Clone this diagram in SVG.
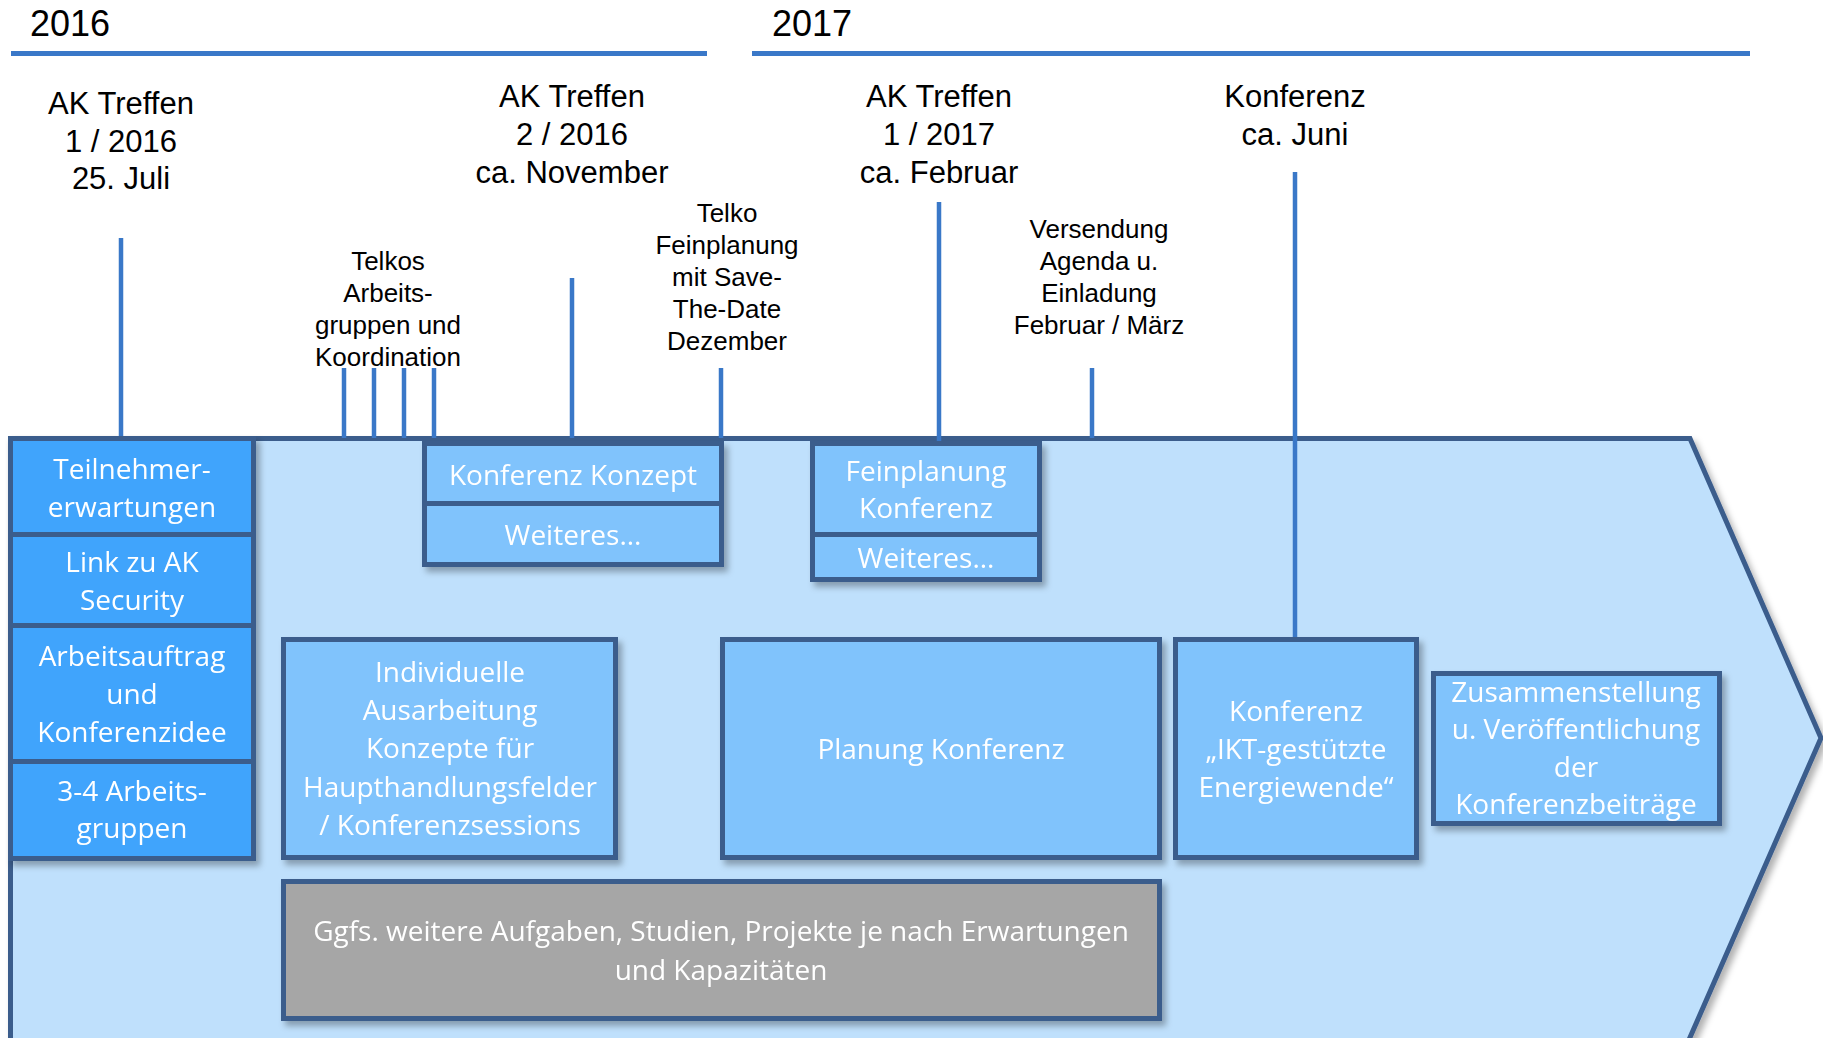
<svg xmlns="http://www.w3.org/2000/svg" width="1823" height="1038" viewBox="0 0 1823 1038">
<defs>
<filter id="sh" x="-10%" y="-10%" width="130%" height="130%">
<feDropShadow dx="4" dy="5" stdDeviation="3" flood-color="#000" flood-opacity="0.3"/>
</filter>
<style>
.hd{font-family:"Liberation Sans",Arial,sans-serif;fill:#000;text-anchor:middle}
.big{font-size:31px}
.sm{font-size:26px}
.yr{font-family:"Liberation Sans",Arial,sans-serif;font-size:36px;fill:#000}
.yl{stroke:#3a78c8;stroke-width:5;fill:none}
.tk{stroke:#3a78c8;stroke-width:4.5;fill:none}
.arr{fill:#bfe0fc;stroke:#3b5d8c;stroke-width:5}
.b1{fill:#40a4fc;stroke:#3b5d8c;stroke-width:5}
.b2{fill:#80c3fc;stroke:#3b5d8c;stroke-width:5}
.b3{fill:#a6a6a6;stroke:#3b5d8c;stroke-width:5}
.bt{font-family:"Open Sans","Noto Sans",sans-serif;font-size:28px;fill:#fff;text-anchor:middle}
</style>
</defs>

<g id="years">
<text class="yr" x="30" y="36">2016</text>
<line class="yl" x1="11" y1="53.5" x2="707" y2="53.5"/>
<text class="yr" x="772" y="36">2017</text>
<line class="yl" x1="752" y1="53.5" x2="1750" y2="53.5"/>
</g>

<g id="arrow">
<polygon class="arr" filter="url(#sh)" points="10.5,438.5 1690,438.5 1821,738 1688,1042 10.5,1042"/>
</g>

<g id="labels">
<text class="hd big"><tspan x="121" y="114">AK Treffen</tspan><tspan x="121" y="152">1 / 2016</tspan><tspan x="121" y="189">25. Juli</tspan></text>
<text class="hd big"><tspan x="572" y="107">AK Treffen</tspan><tspan x="572" y="145">2 / 2016</tspan><tspan x="572" y="183">ca. November</tspan></text>
<text class="hd big"><tspan x="939" y="107">AK Treffen</tspan><tspan x="939" y="145">1 / 2017</tspan><tspan x="939" y="183">ca. Februar</tspan></text>
<text class="hd big"><tspan x="1295" y="107">Konferenz</tspan><tspan x="1295" y="145">ca. Juni</tspan></text>
<text class="hd sm"><tspan x="388" y="270">Telkos</tspan><tspan x="388" y="302">Arbeits-</tspan><tspan x="388" y="334">gruppen und</tspan><tspan x="388" y="366">Koordination</tspan></text>
<text class="hd sm"><tspan x="727" y="222">Telko</tspan><tspan x="727" y="254">Feinplanung</tspan><tspan x="727" y="286">mit Save-</tspan><tspan x="727" y="318">The-Date</tspan><tspan x="727" y="350">Dezember</tspan></text>
<text class="hd sm"><tspan x="1099" y="238">Versendung</tspan><tspan x="1099" y="270">Agenda u.</tspan><tspan x="1099" y="302">Einladung</tspan><tspan x="1099" y="334">Februar / März</tspan></text>
</g>

<g id="connectors">
<line class="tk" x1="121" y1="238" x2="121" y2="438"/>
<line class="tk" x1="344" y1="368" x2="344" y2="438"/>
<line class="tk" x1="374" y1="368" x2="374" y2="438"/>
<line class="tk" x1="404" y1="368" x2="404" y2="438"/>
<line class="tk" x1="434" y1="368" x2="434" y2="438"/>
<line class="tk" x1="572" y1="278" x2="572" y2="438"/>
<line class="tk" x1="721" y1="368" x2="721" y2="438"/>
<line class="tk" x1="939" y1="202" x2="939" y2="441"/>
<line class="tk" x1="1092" y1="368" x2="1092" y2="438"/>
</g>

<g id="col-left" filter="url(#sh)">
<g id="teilnehmer">
<rect class="b1" x="10.5" y="438.5" width="243" height="96"/>
<text class="bt"><tspan x="132" y="479">Teilnehmer-</tspan><tspan x="132" y="517">erwartungen</tspan></text>
</g>
<g id="link-ak">
<rect class="b1" x="10.5" y="534.5" width="243" height="91"/>
<text class="bt"><tspan x="132" y="572">Link zu AK</tspan><tspan x="132" y="610">Security</tspan></text>
</g>
<g id="arbeitsauftrag">
<rect class="b1" x="10.5" y="625.5" width="243" height="136"/>
<text class="bt"><tspan x="132" y="666">Arbeitsauftrag</tspan><tspan x="132" y="704">und</tspan><tspan x="132" y="742">Konferenzidee</tspan></text>
</g>
<g id="arbeitsgruppen">
<rect class="b1" x="10.5" y="761.5" width="243" height="97"/>
<text class="bt"><tspan x="132" y="801">3-4 Arbeits-</tspan><tspan x="132" y="838">gruppen</tspan></text>
</g>
</g>

<g id="konzept-grp" filter="url(#sh)">
<g id="konferenz-konzept">
<rect class="b2" x="424.5" y="443.5" width="297" height="60"/>
<text class="bt" x="573" y="485">Konferenz Konzept</text>
</g>
<g id="weiteres-1">
<rect class="b2" x="424.5" y="503.5" width="297" height="61"/>
<text class="bt" x="573" y="545">Weiteres...</text>
</g>
</g>

<g id="fein-grp" filter="url(#sh)">
<g id="feinplanung">
<rect class="b2" x="812.5" y="443.5" width="227" height="91"/>
<text class="bt"><tspan x="926" y="481">Feinplanung</tspan><tspan x="926" y="518">Konferenz</tspan></text>
</g>
<g id="weiteres-2">
<rect class="b2" x="812.5" y="534.5" width="227" height="45"/>
<text class="bt" x="926" y="568">Weiteres...</text>
</g>
</g>

<g id="individuelle" filter="url(#sh)">
<rect class="b2" x="283.5" y="639.5" width="332" height="218"/>
<text class="bt"><tspan x="450" y="682">Individuelle</tspan><tspan x="450" y="720">Ausarbeitung</tspan><tspan x="450" y="758">Konzepte für</tspan><tspan x="450" y="797">Haupthandlungsfelder</tspan><tspan x="450" y="835">/ Konferenzsessions</tspan></text>
</g>

<g id="planung" filter="url(#sh)">
<rect class="b2" x="722.5" y="639.5" width="437" height="218"/>
<text class="bt" x="941" y="759">Planung Konferenz</text>
</g>

<g id="konferenz-ikt" filter="url(#sh)">
<rect class="b2" x="1175.5" y="639.5" width="241" height="218"/>
<text class="bt"><tspan x="1296" y="721">Konferenz</tspan><tspan x="1296" y="759">„IKT-gestützte</tspan><tspan x="1296" y="797">Energiewende“</tspan></text>
</g>

<g id="zusammenstellung" filter="url(#sh)">
<rect class="b2" x="1433.5" y="673.5" width="286" height="150"/>
<text class="bt"><tspan x="1576" y="702">Zusammenstellung</tspan><tspan x="1576" y="739">u. Veröffentlichung</tspan><tspan x="1576" y="777">der</tspan><tspan x="1576" y="814">Konferenzbeiträge</tspan></text>
</g>

<g id="ggfs" filter="url(#sh)">
<rect class="b3" x="283.5" y="881.5" width="876" height="137"/>
<text class="bt"><tspan x="721" y="941">Ggfs. weitere Aufgaben, Studien, Projekte je nach Erwartungen</tspan><tspan x="721" y="980">und Kapazitäten</tspan></text>
</g>

<g id="konferenz-line">
<line class="tk" x1="1295" y1="172" x2="1295" y2="637"/>
</g>
</svg>
